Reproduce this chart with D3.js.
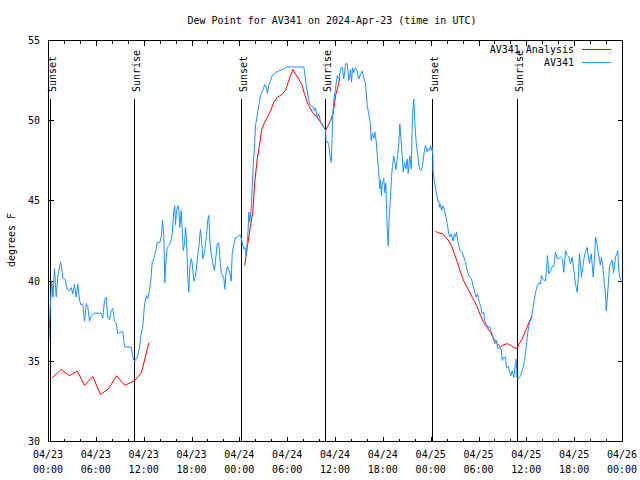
<!DOCTYPE html>
<html><head><meta charset="utf-8">
<script src="https://cdn.jsdelivr.net/npm/d3@7"></script>
<style>
body{margin:0;background:#fff}
text{font-family:"DejaVu Sans Mono","Liberation Mono",monospace;font-size:10px;fill:#000}
</style>
</head><body>
<svg id="c" width="640" height="480"></svg>
<script>
// hours since 2024-04-23 00:00 UTC
const blueHours = [0.04,0.25,0.41,0.56,0.75,0.97,1.17,1.51,1.63,1.79,2.09,2.35,2.63,2.85,3.05,3.26,3.47,3.68,3.89,4.10,4.30,4.52,4.73,4.93,5.14,5.36,5.77,6.61,6.81,7.02,7.24,7.44,7.65,7.87,8.07,8.28,8.49,8.69,8.91,9.32,9.53,10.37,10.57,10.79,11.00,11.20,11.42,11.63,11.83,12.04,12.26,12.46,12.67,12.83,13.01,13.21,13.42,13.64,13.96,14.17,14.30,14.46,14.59,14.68,14.89,15.09,15.30,15.52,15.72,15.84,15.93,16.06,16.27,16.35,16.47,16.65,16.81,16.90,17.06,17.19,17.31,17.47,17.60,17.73,17.90,18.03,18.23,18.44,18.65,18.85,19.06,19.19,19.36,19.57,19.82,19.98,20.11,20.23,20.41,20.61,20.82,20.95,21.16,21.36,21.49,21.66,21.79,21.99,22.12,22.29,22.45,22.62,22.74,22.92,23.04,23.24,23.46,23.67,24.00,24.08,24.30,24.50,24.62,24.71,24.80,24.93,25.05,25.13,25.25,25.43,25.55,25.68,25.84,25.97,26.18,26.38,26.59,26.88,27.13,27.31,27.47,27.63,27.85,28.06,28.47,28.89,29.35,29.94,30.61,31.40,32.03,32.15,32.33,32.53,32.74,32.99,33.21,33.37,33.49,33.71,33.91,34.12,34.33,34.53,34.75,34.83,35.00,35.16,35.29,35.46,35.54,35.66,35.79,36.00,36.22,36.42,36.63,36.84,37.04,37.26,37.47,37.67,37.88,38.01,38.13,38.30,38.51,38.72,38.92,39.14,39.35,39.55,39.76,39.98,40.18,40.39,40.48,40.64,40.81,40.93,41.11,41.23,41.43,41.56,41.65,41.77,41.86,42.06,42.19,42.31,42.49,42.61,42.74,42.90,43.03,43.15,43.31,43.44,43.57,43.74,43.94,44.07,44.19,44.37,44.49,44.66,44.82,45.00,45.12,45.32,45.50,45.66,45.82,45.95,46.12,46.33,46.54,46.75,46.91,47.13,47.29,47.50,47.63,47.79,47.92,48.04,48.13,48.21,48.23,48.42,48.63,48.83,48.96,49.05,49.17,49.30,49.46,49.67,49.89,50.01,50.21,50.34,50.55,50.72,50.93,51.05,51.18,51.34,51.59,51.89,52.09,52.31,52.52,52.81,53.06,53.23,53.48,53.65,53.81,53.98,54.10,54.23,54.40,54.61,54.73,54.91,55.16,55.32,55.48,55.66,55.78,55.98,56.20,56.36,56.57,56.82,56.91,57.11,57.33,57.45,57.67,57.83,57.99,58.17,58.37,58.58,58.67,58.75,58.92,59.21,59.50,59.71,59.92,60.12,60.34,60.59,60.75,60.93,61.09,61.30,61.50,61.72,61.84,62.01,62.13,62.34,62.47,62.59,62.76,62.97,63.18,63.39,63.60,63.81,64.01,64.23,64.44,64.64,64.85,65.07,65.27,65.48,65.69,65.89,66.11,66.32,66.45,66.61,66.73,66.86,67.02,67.20,67.36,67.57,67.70,67.86,68.08,68.20,68.33,68.49,68.62,68.74,68.91,69.03,69.21,69.37,69.53,69.71,69.87,69.96,70.08,70.25,70.37,70.50,70.71,70.87,71.00,71.12,71.29,71.41,71.54,71.67,71.84];
const blueValues = [36.3,38.7,40.0,39.0,40.8,39.0,40.3,41.2,40.9,40.2,40.1,39.5,39.4,39.6,39.2,39.8,39.0,39.8,38.8,38.5,38.6,37.5,38.6,38.4,37.5,37.85,38.0,38.0,37.7,38.8,39.0,37.75,37.6,38.15,38.3,37.5,37.4,36.7,36.8,36.85,35.9,35.9,35.25,35.0,35.15,35.35,35.9,36.7,37.2,38.5,39.1,38.9,39.4,40.0,41.2,41.4,41.8,42.4,42.4,42.85,43.8,42.9,39.9,40.9,42.1,42.2,42.4,42.95,44.4,44.7,43.5,44.4,44.7,44.3,43.35,44.4,42.8,41.9,42.3,43.35,42.5,40.25,39.3,40.9,41.4,41.1,40.0,40.3,41.3,42.1,43.25,42.6,41.4,41.8,42.85,43.8,44.1,42.6,41.7,41.1,40.65,41.3,42.3,42.4,41.5,40.55,40.4,40.2,39.5,40.6,40.9,40.7,40.5,40.0,41.7,42.3,42.7,42.75,42.9,42.85,42.4,42.0,42.1,41.8,41.6,42.4,43.25,44.3,43.7,44.5,45.75,47.2,48.45,49.7,50.3,50.95,51.55,51.9,52.25,52.1,51.7,52.2,52.5,52.8,53.0,53.1,53.2,53.35,53.35,53.35,53.35,52.9,52.2,51.6,51.05,50.9,50.85,50.6,50.8,50.2,50.4,49.95,49.8,49.6,49.4,48.65,48.7,48.5,47.9,47.4,48.4,50.3,51.3,52.0,52.8,52.6,53.2,53.35,52.6,53.55,53.55,52.5,53.2,52.4,53.3,53.0,53.3,53.1,52.6,52.9,53.1,52.7,52.3,50.95,50.4,49.8,48.75,49.2,48.9,49.3,48.7,47.9,46.7,45.75,46.3,45.3,46.0,46.4,45.5,46.1,43.25,42.2,44.0,45.3,46.5,47.2,47.8,47.4,46.95,47.6,48.55,49.8,49.0,47.8,46.8,47.4,47.0,47.6,46.7,47.8,47.0,50.4,51.35,49.9,48.65,47.8,47.0,46.9,47.2,48.05,48.45,48.05,48.25,48.15,48.45,48.15,48.35,47.8,46.9,46.2,45.55,45.0,45.0,44.6,44.8,44.4,44.7,44.4,43.9,43.6,42.95,42.75,42.95,42.5,42.95,42.75,43.05,42.5,41.9,41.8,41.5,41.2,40.65,40.25,40.15,39.75,39.3,39.0,39.2,38.8,38.6,38.4,37.95,38.05,37.5,37.3,37.1,37.2,36.9,36.7,36.4,36.1,36.3,35.8,35.9,35.7,35.05,35.25,35.25,34.6,34.7,34.4,34.1,34.4,34.0,34.85,35.15,34.0,33.9,34.1,34.55,35.05,35.9,36.8,37.4,37.7,38.25,38.8,39.3,39.7,39.9,39.8,40.35,40.15,40.1,40.0,40.75,41.6,40.45,40.65,40.9,40.9,41.8,41.4,41.4,41.5,41.4,40.55,41.9,41.6,41.5,41.1,41.5,40.7,39.8,39.3,40.2,41.7,40.9,40.25,40.9,41.5,41.8,42.1,41.6,41.1,41.7,41.0,40.25,41.5,42.75,42.5,41.9,41.6,41.0,41.5,40.9,39.9,39.2,38.15,38.85,40.0,40.9,41.1,41.3,40.5,41.0,41.5,41.7,41.9,40.65,40.25,39.9];

// analysis series; null marks a gap between runs
const redHours = [0.46,1.59,2.63,3.60,4.52,5.56,6.52,7.56,8.53,9.57,10.83,11.67,12.58,
  18.0,
  24.62,24.93,25.34,25.63,25.88,26.18,26.47,26.72,27.01,27.43,27.85,28.26,28.69,29.32,29.73,30.07,30.36,30.65,30.98,31.40,31.82,32.11,32.45,32.74,33.15,33.71,34.12,34.53,34.75,35.09,35.37,35.66,35.88,36.00,36.34,36.54,
  42.0,
  48.55,48.96,49.46,49.80,50.21,50.55,50.84,51.27,51.68,52.09,52.52,52.94,53.35,53.78,54.19,54.61,55.03,55.45,55.86,56.29,56.70,57.11,57.54,57.95,58.37,58.79,59.00,59.42,59.83,60.25,60.68];
const redValues = [33.97,34.5,34.1,34.4,33.5,34.05,32.93,33.3,34.1,33.5,33.8,34.3,36.15,
  null,
  40.97,42.1,43.45,44.3,46.2,47.6,48.45,49.4,49.8,50.2,50.6,51.15,51.45,51.65,51.9,52.4,52.8,53.2,52.9,52.6,52.2,51.65,51.15,50.85,50.5,50.2,49.9,49.6,49.4,49.7,50.0,50.4,51.05,51.55,52.2,52.7,
  null,
  43.1,43.0,42.95,42.75,42.5,42.2,41.8,41.2,40.55,40.0,39.6,39.2,38.8,38.4,37.85,37.4,37.1,36.8,36.4,36.1,35.9,36.03,36.1,36.0,35.85,35.8,36.05,36.4,36.9,37.4,37.85];

const sunLabels = ["Sunset","Sunrise","Sunset","Sunrise","Sunset","Sunrise"];
const sunHours = [0.22,10.79,24.15,34.78,48.21,58.87];

const xTickHours = [0,6,12,18,24,30,36,42,48,54,60,66,72];
const xTickDates = ["04/23","04/23","04/23","04/23","04/24","04/24","04/24","04/24","04/25","04/25","04/25","04/25","04/26"];
const xTickTimes = ["00:00","06:00","12:00","18:00","00:00","06:00","12:00","18:00","00:00","06:00","12:00","18:00","00:00"];
const xMinorHours = d3.range(0, 73, 2);
const yTicks = [30,35,40,45,50,55];

const seriesNames = ["AV341 Analysis","AV341"];
const seriesColors = ["#ff0000","#1e90ff"];

const svg = d3.select("#c");
const L = 48, R = 622, T = 40, B = 441;
const x = d3.scaleLinear().domain([0,72]).range([L,R]);
const y = d3.scaleLinear().domain([30,55]).range([B,T]);
const g = svg.append("g").attr("transform","translate(0.5,0.5)");

// title
svg.append("text").attr("x",332).attr("y",24).attr("text-anchor","middle")
  .text("Dew Point for AV341 on 2024-Apr-23 (time in UTC)");
// y label
svg.append("text").attr("transform","translate(15,240) rotate(-90)").attr("text-anchor","middle").text("degrees F");

// ticks
const tk = g.append("g").attr("stroke","#000").attr("shape-rendering","crispEdges");
yTicks.forEach(v=>{
  const yy = Math.round(y(v));
  tk.append("line").attr("x1",L).attr("x2",L+5).attr("y1",yy).attr("y2",yy);
  tk.append("line").attr("x1",R).attr("x2",R-5).attr("y1",yy).attr("y2",yy);
});
xMinorHours.forEach(h=>{
  const xx = Math.round(x(h));
  const len = (h % 6 === 0) ? 5 : 3;
  tk.append("line").attr("x1",xx).attr("x2",xx).attr("y1",B).attr("y2",B-len);
  tk.append("line").attr("x1",xx).attr("x2",xx).attr("y1",T).attr("y2",T+len);
});

// tick labels
yTicks.forEach(v=>{
  svg.append("text").attr("x",40).attr("y",Math.round(y(v))+4).attr("text-anchor","end").text(v);
});
xTickHours.forEach((h,i)=>{
  const xx = x(h);
  svg.append("text").attr("x",xx).attr("y",458).attr("text-anchor","middle").text(xTickDates[i]);
  svg.append("text").attr("x",xx).attr("y",473).attr("text-anchor","middle").text(xTickTimes[i]);
});

// sun lines
sunHours.forEach((h,i)=>{
  const xx = Math.round(x(h));
  g.append("line").attr("x1",xx).attr("x2",xx).attr("y1",98).attr("y2",B)
    .attr("stroke","#000").attr("shape-rendering","crispEdges");
  svg.append("text").attr("transform",`translate(${xx+6},92) rotate(-90)`).text(sunLabels[i]);
});

// data
const blue = blueHours.map((h,i)=>[h,blueValues[i]]);
const red = redHours.map((h,i)=>[h,redValues[i]]);
const line = d3.line().defined(d=>d[1]!=null).x(d=>x(d[0])).y(d=>y(d[1]));
g.append("path").datum(red).attr("d",line).attr("fill","none").attr("stroke",seriesColors[0]).attr("stroke-width",1);
g.append("path").datum(blue).attr("d",line).attr("fill","none").attr("stroke",seriesColors[1]).attr("stroke-width",1);

// border
g.append("rect").attr("x",L).attr("y",T).attr("width",R-L).attr("height",B-T)
  .attr("fill","none").attr("stroke","#000").attr("shape-rendering","crispEdges");

// legend
seriesNames.forEach((n,i)=>{
  const yy = 49 + i*13;
  svg.append("text").attr("x",574).attr("y",yy+4).attr("text-anchor","end").text(n);
  g.append("line").attr("x1",581).attr("x2",610).attr("y1",yy).attr("y2",yy)
    .attr("stroke",seriesColors[i]).attr("shape-rendering","crispEdges");
});
</script>
</body></html>
